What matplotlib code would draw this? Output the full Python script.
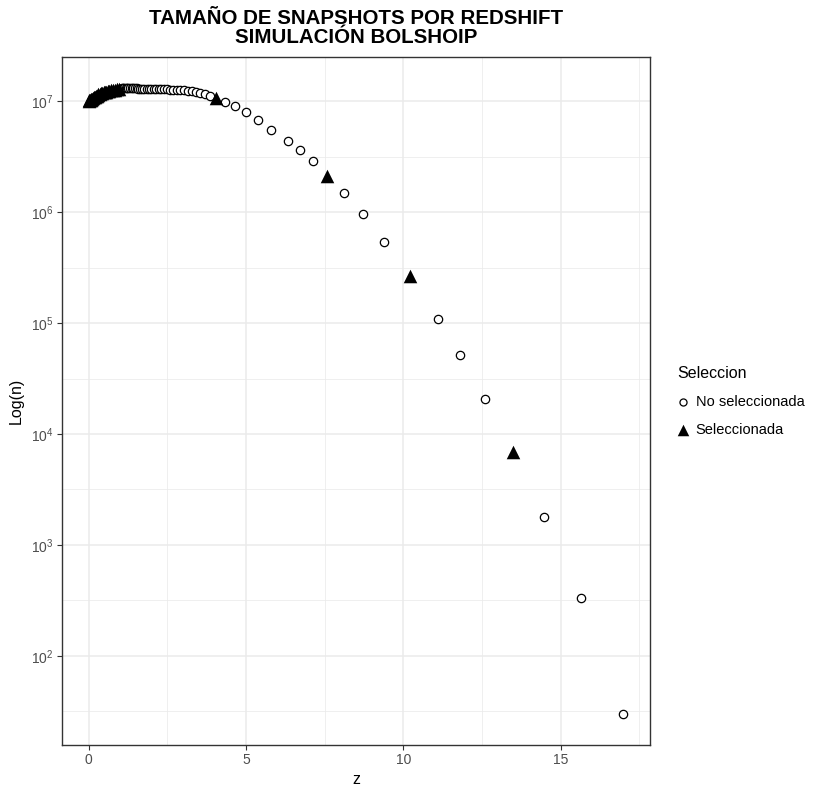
import numpy as np
import matplotlib
matplotlib.use("Agg")
import matplotlib.pyplot as plt
from matplotlib.ticker import FixedLocator, LogFormatterMathtext, NullFormatter

plt.rcParams['font.family'] = ['Liberation Sans', 'DejaVu Sans']
plt.rcParams['mathtext.fontset'] = 'custom'
plt.rcParams['mathtext.rm'] = 'Liberation Sans'
plt.rcParams['mathtext.it'] = 'Liberation Sans:italic'
plt.rcParams['mathtext.bf'] = 'Liberation Sans:bold'

# snapshots selected (triangles)
z_sel = [0.00, 0.02, 0.04, 0.06, 0.08, 0.10, 0.13, 0.16, 0.19, 0.22, 0.25, 0.28,
         0.31, 0.35, 0.39, 0.43, 0.47, 0.51, 0.56, 0.61, 0.66, 0.71, 0.77, 0.83,
         0.89, 0.95, 4.03, 7.58, 10.20, 13.48]
n_sel = [1.010e7, 1.020e7, 1.030e7, 1.040e7, 1.050e7, 1.060e7, 1.075e7, 1.090e7,
         1.100e7, 1.115e7, 1.130e7, 1.140e7, 1.155e7, 1.170e7, 1.180e7, 1.195e7,
         1.205e7, 1.215e7, 1.225e7, 1.235e7, 1.245e7, 1.255e7, 1.265e7, 1.280e7,
         1.290e7, 1.300e7, 1.070e7, 2.14e6, 2.69e5, 6.9e3]

# snapshots not selected (open circles)
z_no = [1.01, 1.05, 1.09, 1.13, 1.17, 1.21, 1.26, 1.31, 1.36, 1.41, 1.46, 1.52,
        1.58, 1.64, 1.70, 1.77, 1.84, 1.91, 1.98, 2.06, 2.14, 2.22, 2.31, 2.40,
        2.49, 2.59, 2.69, 2.80, 2.91, 3.03, 3.15, 3.29, 3.41, 3.55, 3.71, 3.86,
        4.34, 4.64, 4.99, 5.38, 5.80, 6.32, 6.70, 7.13, 8.11, 8.72, 9.40, 11.10,
        11.80, 12.58, 14.46, 15.64, 16.99]
n_no = [1.305e7, 1.308e7, 1.310e7, 1.312e7, 1.313e7, 1.314e7, 1.314e7, 1.314e7,
        1.313e7, 1.311e7, 1.309e7, 1.308e7, 1.307e7, 1.306e7, 1.304e7, 1.302e7,
        1.300e7, 1.298e7, 1.296e7, 1.294e7, 1.292e7, 1.290e7, 1.287e7, 1.285e7,
        1.282e7, 1.279e7, 1.276e7, 1.272e7, 1.268e7, 1.262e7, 1.250e7, 1.235e7,
        1.215e7, 1.190e7, 1.156e7, 1.119e7, 9.88e6, 9.10e6, 8.03e6, 6.84e6,
        5.56e6, 4.40e6, 3.62e6, 2.88e6, 1.50e6, 9.6e5, 5.41e5, 1.09e5,
        5.15e4, 2.07e4, 1.79e3, 329, 30]

legend_labels = ["No seleccionada", "Seleccionada"]

fig = plt.figure(figsize=(8.22, 7.90), dpi=100)
ax = fig.add_axes([62/822, 1 - 745/790, (650 - 62)/822, (745 - 57)/790])

ax.scatter(z_no, n_no, s=36, marker='o', facecolors='white', edgecolors='black',
           linewidths=0.9, label=legend_labels[0], zorder=3)
ax.scatter(z_sel, n_sel, s=95, marker='^', color='black', linewidths=0,
           label=legend_labels[1], zorder=4)

ax.set_yscale('log')

# ggplot-like 5% expansion
all_z = np.array(z_sel + z_no)
all_n = np.log10(np.array(n_sel + n_no))
zr = all_z.max() - all_z.min()
nr = all_n.max() - all_n.min()
ax.set_xlim(all_z.min() - 0.05*zr, all_z.max() + 0.05*zr)
ax.set_ylim(10**(all_n.min() - 0.05*nr), 10**(all_n.max() + 0.05*nr))

ax.xaxis.set_major_locator(FixedLocator([0, 5, 10, 15]))
ax.xaxis.set_minor_locator(FixedLocator([2.5, 7.5, 12.5, 17.5]))
ax.yaxis.set_major_locator(FixedLocator([10.0**k for k in range(2, 8)]))
ax.yaxis.set_major_formatter(LogFormatterMathtext())
ax.yaxis.set_minor_locator(FixedLocator([10**(k + 0.5) for k in range(1, 8)]))
ax.yaxis.set_minor_formatter(NullFormatter())

ax.grid(True, which='major', color='#EBEBEB', linewidth=1.1, zorder=0)
ax.grid(True, which='minor', color='#EBEBEB', linewidth=0.55, zorder=0)
ax.set_axisbelow(True)
for sp in ax.spines.values():
    sp.set_color('#333333')
    sp.set_linewidth(1.0)
ax.tick_params(which='major', length=3.5, width=0.8, color='#333333',
               labelcolor='#4D4D4D', labelsize=10, pad=2.5)
ax.tick_params(which='minor', length=0)

ax.set_xlabel("z", fontsize=11.5, labelpad=3)
ax.set_ylabel("Log(n)", fontsize=11.5, labelpad=5)

fig.suptitle("TAMAÑO DE SNAPSHOTS POR REDSHIFT\nSIMULACIÓN BOLSHOIP",
             x=356/822, y=1 - 9/790, fontsize=14.8, fontweight='bold',
             va='top', linespacing=1.02)

leg = ax.legend(loc='upper left', bbox_to_anchor=(671/822, 1 - 360/790),
                bbox_transform=fig.transFigure, frameon=False, title="Seleccion",
                fontsize=10.5, title_fontsize=11.5, handlelength=0.9,
                handletextpad=0.4, labelspacing=0.95, borderaxespad=0,
                markerscale=0.85)
leg._legend_box.align = "left"

fig.savefig("out.png", dpi=100)
